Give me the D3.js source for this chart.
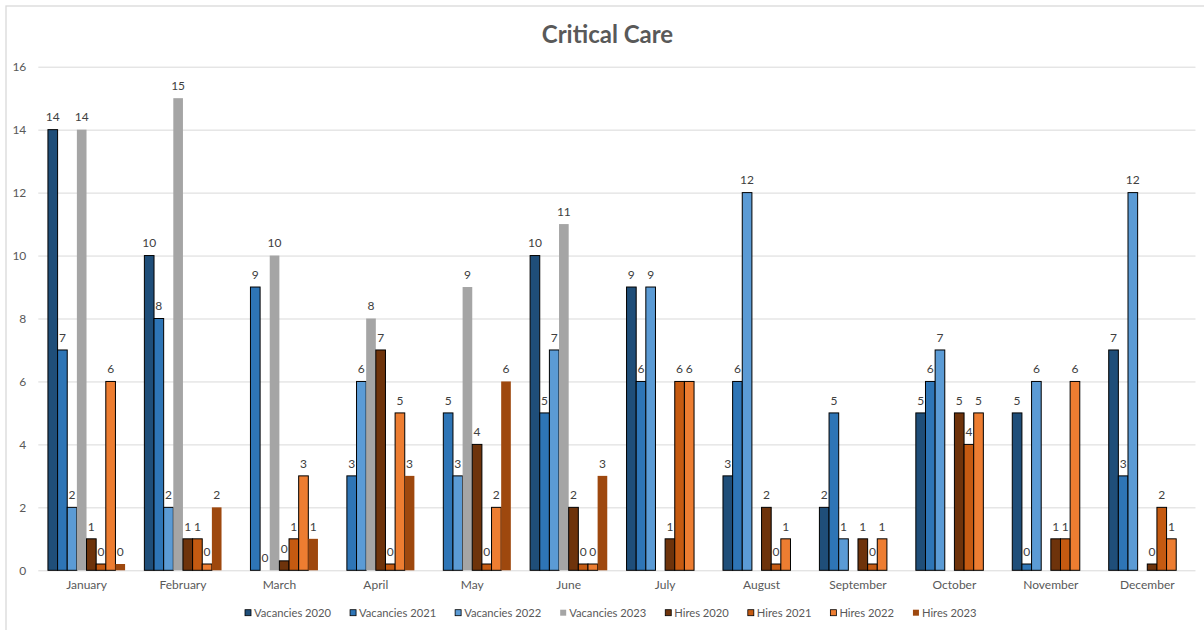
<!DOCTYPE html>
<html>
<head>
<meta charset="utf-8">
<script src="https://cdn.jsdelivr.net/npm/d3@7/dist/d3.min.js"></script>
<style>
  html, body { margin: 0; padding: 0; background: #fff; }
  svg { display: block; font-family: Lato, "Open Sans", sans-serif; }
</style>
</head>
<body>
<div id="chart"></div>
<script>
// chart values
// (null = no bar; 0.2 / 0.3 = the small stubs Excel shows with a "0" label)
var months = ['January', 'February', 'March', 'April', 'May', 'June', 'July',
  'August', 'September', 'October', 'November', 'December'];

var vacancies2020 = [14, 10, null, null, null, 10, 9, 3, 2, 5, 5, 7];
var vacancies2021 = [7, 8, 9, 3, 5, 5, 6, 6, 5, 6, 0.2, 3];
var vacancies2022 = [2, 2, 0, 6, 3, 7, 9, 12, 1, 7, 6, 12];
var vacancies2023 = [14, 15, 10, 8, 9, 11, null, null, null, null, null, null];
var hires2020 = [1, 1, 0.3, 7, 4, 2, 1, 2, 1, 5, 1, 0.2];
var hires2021 = [0.2, 1, 1, 0.2, 0.2, 0.2, 6, 0.2, 0.2, 4, 1, 2];
var hires2022 = [6, 0.2, 3, 5, 2, 0.2, 6, 1, 1, 5, 6, 1];
var hires2023 = [0.2, 2, 1, 3, 6, 3, null, null, null, null, null, null];

var seriesNames = ['Vacancies 2020', 'Vacancies 2021', 'Vacancies 2022', 'Vacancies 2023',
  'Hires 2020', 'Hires 2021', 'Hires 2022', 'Hires 2023'];
var yTicks = [0, 2, 4, 6, 8, 10, 12, 14, 16];

var title = 'Critical Care';

// styling per series
var colors = ['#1F4E79', '#2E75B6', '#5B9BD5', '#A5A5A5', '#6E330B', '#C55A11', '#ED7D31', '#9E480E'];
var outlined = [true, true, true, false, true, true, true, false];

var width = 1204;
var height = 630;
var margin = { top: 66.7, right: 8.5, bottom: 59.7, left: 38.3 };
var plotW = width - margin.left - margin.right;
var plotH = height - margin.top - margin.bottom;

var seriesValues = [vacancies2020, vacancies2021, vacancies2022, vacancies2023,
  hires2020, hires2021, hires2022, hires2023];

var series = seriesNames.map(function (name, i) {
  return { name: name, color: colors[i], outlined: outlined[i], values: seriesValues[i] };
});

var svg = d3.select('#chart').append('svg')
  .attr('width', width)
  .attr('height', height);

svg.append('rect')
  .attr('width', width)
  .attr('height', height)
  .attr('fill', '#fff');

// chart area border (only top and left edges show in the picture)
svg.append('rect')
  .attr('x', 6)
  .attr('y', 6)
  .attr('width', width + 20)
  .attr('height', height + 20)
  .attr('fill', 'none')
  .attr('stroke', '#d9d9d9')
  .attr('stroke-width', 1.3);

svg.append('text')
  .attr('x', 607.5)
  .attr('y', 33)
  .attr('text-anchor', 'middle')
  .attr('dominant-baseline', 'central')
  .attr('fill', '#595959')
  .attr('font-size', 24)
  .attr('font-weight', 'bold')
  .text(title);

var g = svg.append('g')
  .attr('transform', 'translate(' + margin.left + ',' + margin.top + ')');

var x0 = d3.scaleBand()
  .domain(months)
  .range([0, plotW])
  .paddingInner(0.2)
  .paddingOuter(0.1);

var x1 = d3.scaleBand()
  .domain(seriesNames)
  .range([0, x0.bandwidth()]);

var y = d3.scaleLinear()
  .domain([0, 16])
  .range([plotH, 0]);

// gridlines
var yAxis = d3.axisLeft(y)
  .tickValues(yTicks)
  .tickSize(-plotW)
  .tickPadding(12)
  .tickFormat(d3.format('d'));

var yG = g.append('g').call(yAxis);
yG.select('.domain').remove();
yG.selectAll('.tick line')
  .attr('stroke', '#d9d9d9')
  .attr('stroke-width', 1);
yG.selectAll('.tick text')
  .attr('fill', '#595959')
  .attr('font-size', 12)
  .attr('font-family', 'Lato, "Open Sans", sans-serif');

// month labels
var xAxis = d3.axisBottom(x0).tickSize(0).tickPadding(10);
var xG = g.append('g')
  .attr('transform', 'translate(0,' + plotH + ')')
  .call(xAxis);
xG.select('.domain').remove();
xG.selectAll('.tick text')
  .attr('fill', '#595959')
  .attr('font-size', 12)
  .attr('font-family', 'Lato, "Open Sans", sans-serif');

// bars
var groups = g.selectAll('.month')
  .data(months)
  .enter().append('g')
  .attr('class', 'month')
  .attr('transform', function (m) { return 'translate(' + x0(m) + ',0)'; });

var fmt = d3.format('.0f');

groups.each(function (m, mi) {
  var cell = d3.select(this);
  var points = series.map(function (s) {
    return { s: s, v: s.values[mi] };
  }).filter(function (p) { return p.v !== null; });

  cell.selectAll('rect')
    .data(points)
    .enter().append('rect')
    .attr('x', function (p) { return x1(p.s.name); })
    .attr('y', function (p) { return y(p.v); })
    .attr('width', x1.bandwidth())
    .attr('height', function (p) { return y(0) - y(p.v); })
    .attr('fill', function (p) { return p.s.color; })
    .attr('stroke', function (p) { return p.s.outlined && p.v > 0 ? '#000' : 'none'; })
    .attr('stroke-width', 1);

  cell.selectAll('text')
    .data(points)
    .enter().append('text')
    .attr('x', function (p) { return x1(p.s.name) + x1.bandwidth() / 2; })
    .attr('y', function (p) { return y(p.v) - 8.3; })
    .attr('text-anchor', 'middle')
    .attr('fill', '#404040')
    .attr('font-size', 12)
    .text(function (p) { return fmt(p.v); });
});

// legend, laid out from the text widths and centred under the plot
var legend = svg.append('g');
var lx = 0;
var itemGap = 18.5;
series.forEach(function (s) {
  var item = legend.append('g').attr('transform', 'translate(' + lx + ',0)');
  item.append('rect')
    .attr('x', 0.5)
    .attr('y', -3)
    .attr('width', 6)
    .attr('height', 6)
    .attr('fill', s.color)
    .attr('stroke', s.outlined ? '#000' : 'none')
    .attr('stroke-width', 0.8);
  var t = item.append('text')
    .attr('x', 9.5)
    .attr('y', 0)
    .attr('dominant-baseline', 'central')
    .attr('fill', '#595959')
    .attr('font-size', 11.2)
    .text(s.name);
  lx += 9.5 + t.node().getComputedTextLength() + itemGap;
});
var legendW = lx - itemGap;
legend.attr('transform', 'translate(' + (610.5 - legendW / 2) + ',612.7)');
</script>
</body>
</html>
